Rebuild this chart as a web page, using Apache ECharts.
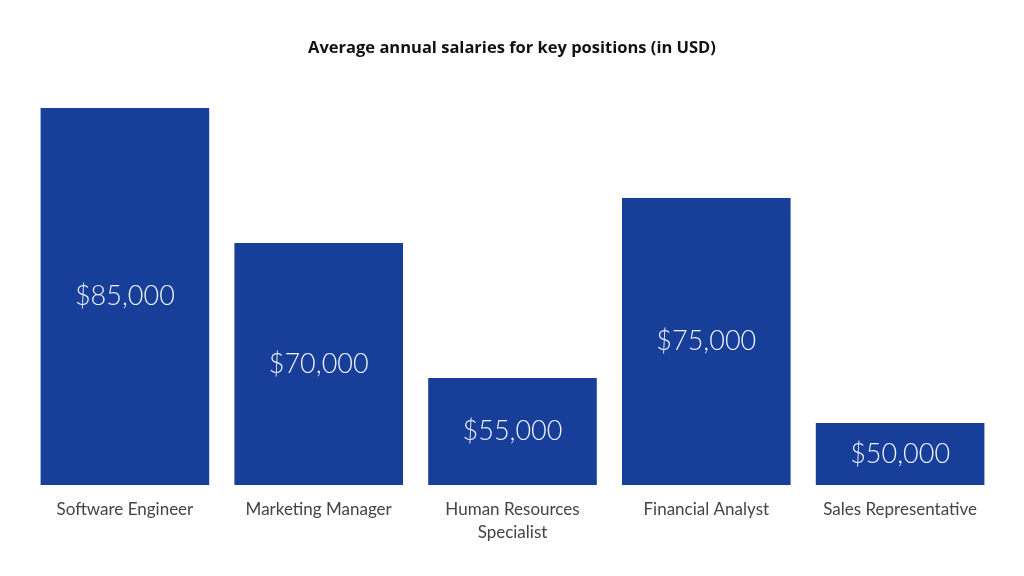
<!DOCTYPE html>
<html>
<head>
<meta charset="utf-8">
<script src="https://cdn.jsdelivr.net/npm/echarts@6/dist/echarts.min.js"></script>
<style>
  html, body { margin: 0; padding: 0; background: #fff; }
  #chart { width: 1024px; height: 576px; }
</style>
</head>
<body>
<div id="chart"></div>
<script>
var positions = ["Software Engineer", "Marketing Manager", "Human Resources\nSpecialist", "Financial Analyst", "Sales Representative"];
var salaries = [85000, 70000, 55000, 75000, 50000];
var barColor = "#173f99";

var fmtMoney = function (v) {
    return "$" + v.toLocaleString("en-US");
};

var myChart = echarts.init(document.getElementById("chart"));
myChart.setOption({
    animation: false,
    title: {
        text: "Average annual salaries for key positions (in USD)",
        left: "center",
        top: 35,
        textStyle: {
            color: "#111",
            fontFamily: "Open Sans",
            fontWeight: "bold",
            fontSize: 16.5
        }
    },
    grid: {
        left: 28,
        right: 27,
        top: 108,
        bottom: 91
    },
    xAxis: {
        type: "category",
        data: positions,
        axisLine: { show: false },
        axisTick: { show: false },
        axisLabel: {
            color: "#444",
            fontFamily: "Lato",
            fontSize: 17,
            margin: 13,
            lineHeight: 23,
            interval: 0
        }
    },
    yAxis: {
        type: "value",
        min: 43100,
        max: 85000,
        show: false,
        splitLine: { show: false }
    },
    series: [{
        type: "bar",
        data: salaries,
        barCategoryGap: "13%",
        itemStyle: { color: barColor },
        label: {
            show: true,
            position: "inside",
            color: "#eef0fa",
            fontFamily: "Lato",
            fontWeight: 300,
            fontSize: 27,
            formatter: function (p) { return fmtMoney(p.value); }
        }
    }]
});
</script>
</body>
</html>
